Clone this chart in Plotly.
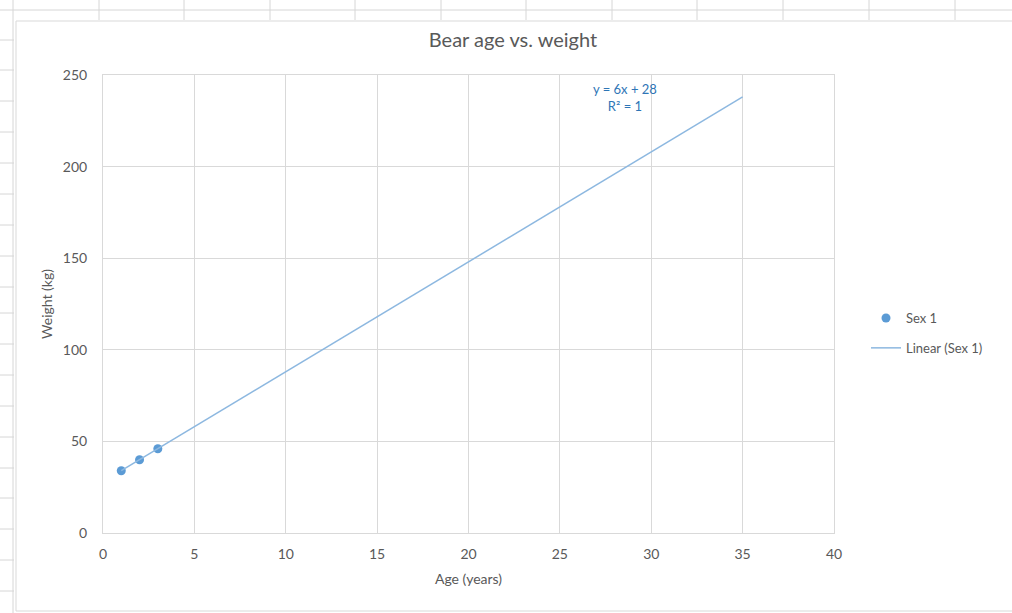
import numpy as np
import plotly.graph_objects as go

# Data
age_years = [1, 2, 3]
weight_kg = [34, 40, 46]
trend_x_range = [1, 35]          # Excel trendline forecast forward to 35
x_ticks = [0, 5, 10, 15, 20, 25, 30, 35, 40]
y_ticks = [0, 50, 100, 150, 200, 250]

slope, intercept = np.polyfit(age_years, weight_kg, 1)
trend_x = np.array(trend_x_range, dtype=float)
trend_y = slope * trend_x + intercept
eq_text = f"y = {slope:.0f}x + {intercept:.0f}<br>R² = 1"

W, H = 1012, 613
L, R, T, B = 103, 834, 75, 533
blue = "#5B9BD5"
txt = "#595959"
font_family = "Lato, 'Open Sans', sans-serif"

fig = go.Figure()
fig.add_trace(go.Scatter(
    x=age_years, y=weight_kg, mode="markers", name="Sex 1", legendgroup="a",
    marker=dict(color=blue, size=9),
))
fig.add_trace(go.Scatter(
    x=trend_x, y=trend_y, mode="lines", name="Linear (Sex 1)", legendgroup="b",
    line=dict(color="#8DB8E0", width=1.5),
))


def px_x(p):
    return (p - L) / (R - L)


def px_y(p):
    return (B - p) / (B - T)


shapes = []
# spreadsheet background grid (outside chart area)
for vx in [99, 184, 270, 355, 441, 526, 612, 697, 783, 869, 955]:
    shapes.append(dict(type="line", xref="paper", yref="paper",
                       x0=px_x(vx), x1=px_x(vx), y0=px_y(0), y1=px_y(20),
                       line=dict(color="#d6d6d6", width=1), layer="below"))
shapes.append(dict(type="line", xref="paper", yref="paper",
                   x0=px_x(0), x1=px_x(W), y0=px_y(10), y1=px_y(10),
                   line=dict(color="#d6d6d6", width=1), layer="below"))
for hy in [40, 70, 101, 132, 163, 194, 225, 256, 287, 313, 344, 375, 406, 437, 468, 498, 529, 560, 591]:
    shapes.append(dict(type="line", xref="paper", yref="paper",
                       x0=px_x(0), x1=px_x(14), y0=px_y(hy), y1=px_y(hy),
                       line=dict(color="#d6d6d6", width=1), layer="below"))
shapes.append(dict(type="line", xref="paper", yref="paper",
                   x0=px_x(13), x1=px_x(13), y0=px_y(0), y1=px_y(H),
                   line=dict(color="#d6d6d6", width=1), layer="below"))
# chart area border
shapes.append(dict(type="rect", xref="paper", yref="paper",
                   x0=px_x(16), x1=px_x(W + 5), y0=px_y(611), y1=px_y(21),
                   line=dict(color="#d9d9d9", width=1), fillcolor="rgba(0,0,0,0)",
                   layer="below"))

fig.update_layout(
    width=W, height=H,
    margin=dict(l=L, r=W - R, t=T, b=H - B),
    paper_bgcolor="white", plot_bgcolor="white",
    font=dict(family=font_family, color=txt, size=13),
    title=dict(text="Bear age vs. weight", x=513 / W, xanchor="center",
               y=1 - 40 / H, yanchor="middle",
               font=dict(size=20, color=txt)),
    xaxis=dict(range=[0, 40], tickvals=x_ticks, showgrid=True, gridcolor="#d9d9d9",
               zeroline=False, showline=True, linecolor="#d9d9d9", mirror=True,
               ticks="", ticklabelstandoff=8, tickfont=dict(size=14),
               title=dict(text="Age (years)", font=dict(size=14, color=txt), standoff=13)),
    yaxis=dict(range=[0, 250], tickvals=y_ticks, showgrid=True, gridcolor="#d9d9d9",
               zeroline=False, showline=True, linecolor="#d9d9d9", mirror=True,
               ticks="", ticklabelstandoff=12, tickfont=dict(size=14),
               title=dict(text="Weight (kg)", font=dict(size=14, color=txt), standoff=6)),
    legend=dict(x=px_x(866), y=px_y(333), xanchor="left", yanchor="middle",
                font=dict(size=13, color=txt), bgcolor="rgba(0,0,0,0)",
                tracegroupgap=10, itemwidth=30),
    shapes=shapes,
    annotations=[dict(text=eq_text, xref="paper", yref="paper",
                      x=px_x(625), y=px_y(97), xanchor="center", yanchor="middle",
                      showarrow=False, align="center",
                      font=dict(size=13, color="#2E75B6"))],
)

fig.write_html("out.html", config={"displayModeBar": False},
               post_script="document.body.style.margin='0';document.body.style.padding='0';")
